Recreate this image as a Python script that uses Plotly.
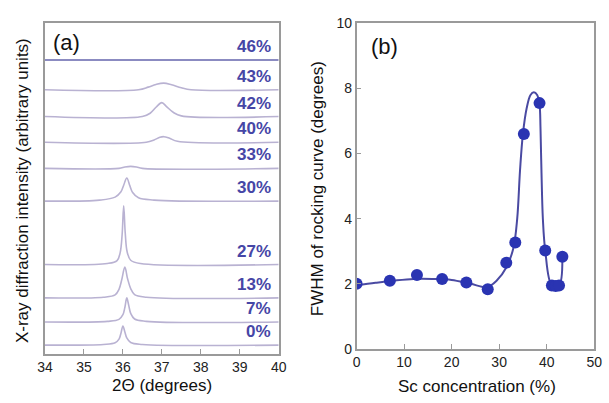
import plotly.graph_objects as go

# ---------------- Panel (a): XRD traces ----------------
samples = ["0%", "7%", "13%", "27%", "30%", "33%", "40%", "42%", "43%", "46%"]
offsets = [2.6, 9.6, 16.9, 27.0, 46.2, 56.1, 64.0, 71.8, 79.9, 88.9]
two_theta = {
    "0%":  [34, 35.5, 35.8, 35.9, 35.95, 36.0, 36.05, 36.1, 36.2, 36.5, 40],
    "7%":  [34, 35.6, 35.9, 36.0, 36.05, 36.1, 36.15, 36.2, 36.3, 36.6, 40],
    "13%": [34, 35.5, 35.8, 35.9, 35.97, 36.05, 36.12, 36.2, 36.3, 36.6, 40],
    "27%": [34, 35.6, 35.85, 35.93, 35.98, 36.02, 36.06, 36.11, 36.2, 36.45, 40],
    "30%": [34, 35.4, 35.8, 35.95, 36.02, 36.1, 36.18, 36.25, 36.4, 36.8, 40],
    "33%": [34, 35.9, 36.05, 36.2, 36.35, 36.5, 40],
    "40%": [34, 36.6, 36.8, 36.95, 37.05, 37.2, 37.4, 40],
    "42%": [34, 36.5, 36.7, 36.85, 37.0, 37.12, 37.3, 37.5, 40],
    "43%": [34, 36.4, 36.65, 36.85, 37.05, 37.25, 37.5, 37.75, 40],
    "46%": [34, 40],
}
intensity = {
    "0%":  [0, 0.2, 0.7, 1.8, 3.6, 5.8, 4.0, 2.2, 0.8, 0.2, 0],
    "7%":  [0, 0.2, 0.8, 2.2, 4.4, 7.3, 5.0, 2.6, 0.9, 0.2, 0],
    "13%": [0, 0.2, 0.9, 2.6, 5.5, 9.3, 5.8, 2.8, 1.0, 0.2, 0],
    "27%": [0, 0.3, 1.2, 3.6, 9.0, 17.8, 9.5, 3.8, 1.3, 0.3, 0],
    "30%": [0, 0.3, 1.2, 2.8, 4.8, 7.0, 4.6, 2.6, 1.0, 0.3, 0],
    "33%": [0, 0, 0.4, 0.6, 0.4, 0, 0],
    "40%": [0, 0, 0.7, 1.5, 1.7, 1.2, 0.3, 0],
    "42%": [0, 0, 1.0, 2.8, 4.2, 3.0, 1.2, 0.2, 0],
    "43%": [0, 0, 0.8, 1.6, 2.0, 1.5, 0.6, 0, 0],
    "46%": [0, 0],
}

# ---------------- Panel (b): FWHM ----------------
sc_conc = [0, 7, 12.7, 18, 23.1, 27.6, 31.5, 33.4, 35.2, 38.5, 39.7, 41.1, 41.9, 42.6, 43.3]
fwhm    = [2.0, 2.09, 2.27, 2.15, 2.04, 1.83, 2.65, 3.27, 6.6, 7.55, 3.02, 1.95, 1.93, 1.95, 2.83]
# guide line drawn through the data
fit_x = [0, 4, 8, 12, 16, 20, 24, 27.5, 29.5, 31.5, 33.0, 33.8, 34.4, 35.0, 35.8, 36.6, 37.3, 38.0, 38.5, 38.7, 38.9, 39.2, 39.7, 41.1, 42.6, 43.3]
fit_y = [1.95, 2.03, 2.1, 2.15, 2.15, 2.12, 2.0, 1.9, 2.1, 2.5, 3.1, 4.0, 5.5, 6.6, 7.4, 7.8, 7.88, 7.8, 7.5, 6.8, 5.5, 4.0, 3.02, 1.95, 1.95, 2.83]

line_col = "#b9b2d2"
label_col = "#4646a6"
fwhm_col = "#4a4aa2"
marker_col = "#2a34b2"
frame_col = "#9a9a9a"
font_fam = "Liberation Sans, Arial, sans-serif"

fig = go.Figure()
for s, off in zip(samples, offsets):
    ys = [off + v for v in intensity[s]]
    fig.add_trace(go.Scatter(
        x=two_theta[s], y=ys, mode="lines",
        line=dict(color="#6464ac" if s == "46%" else line_col, width=1.6),
        line_shape="spline" if s not in ("46%",) else "linear",
        xaxis="x", yaxis="y", showlegend=False, hoverinfo="skip"))
    fig.add_annotation(x=39.85, y=off + 0.6, xref="x", yref="y", text="<b>%s</b>" % s,
                       showarrow=False, xanchor="right", yanchor="bottom",
                       font=dict(size=17, color=label_col, family=font_fam))

fig.add_trace(go.Scatter(x=fit_x, y=fit_y, mode="lines", line=dict(color=fwhm_col, width=2),
                         line_shape="spline", xaxis="x2", yaxis="y2", showlegend=False))
fig.add_trace(go.Scatter(x=sc_conc, y=fwhm, mode="markers",
                         marker=dict(color=marker_col, size=12),
                         xaxis="x2", yaxis="y2", showlegend=False))

axis_common = dict(showline=True, mirror=True, linecolor=frame_col, linewidth=1.5,
                   showgrid=False, zeroline=False, ticks="inside", ticklen=5,
                   tickcolor=frame_col, tickfont=dict(size=14, color="#222", family=font_fam))

fig.update_layout(
    width=609, height=403, margin=dict(l=0, r=0, t=0, b=0),
    paper_bgcolor="white", plot_bgcolor="white",
    xaxis=dict(domain=[38/609, 278/609], range=[34, 40], dtick=1, anchor="y", **axis_common),
    yaxis=dict(domain=[1-360/403, 1-16/403], range=[0, 100], showticklabels=False,
               anchor="x", **{k: v for k, v in axis_common.items() if k not in ("ticks",)}, ticks=""),
    xaxis2=dict(domain=[358/609, 602/609], range=[0, 50], dtick=10, anchor="y2", **axis_common),
    yaxis2=dict(domain=[1-355/403, 1-16/403], range=[0, 10], dtick=2, anchor="x2", **axis_common),
)

ann = [
    dict(x=44/609, y=1-36/403, text="(a)", xanchor="left", size=22),
    dict(x=371/609, y=1-40/403, text="(b)", xanchor="left", size=22),
    dict(x=158/609, y=1-393/403, text="2Θ (degrees)", xanchor="center", size=17),
    dict(x=482/609, y=1-394/403, text="Sc concentration (%)", xanchor="center", size=17),
]
for a in ann:
    fig.add_annotation(x=a["x"], y=a["y"], xref="paper", yref="paper", text=a["text"],
                       showarrow=False, xanchor=a["xanchor"], yanchor="middle",
                       font=dict(size=a["size"], color="#111", family=font_fam))
fig.add_annotation(x=15/609, y=1-190/403, xref="paper", yref="paper",
                   text="X-ray diffraction intensity (arbitrary units)", textangle=-90,
                   showarrow=False, xanchor="center", yanchor="middle",
                   font=dict(size=17, color="#111", family=font_fam))
fig.add_annotation(x=318/609, y=1-188/403, xref="paper", yref="paper",
                   text="FWHM of rocking curve (degrees)", textangle=-90,
                   showarrow=False, xanchor="center", yanchor="middle",
                   font=dict(size=17, color="#111", family=font_fam))

fig.write_html("out.html")
